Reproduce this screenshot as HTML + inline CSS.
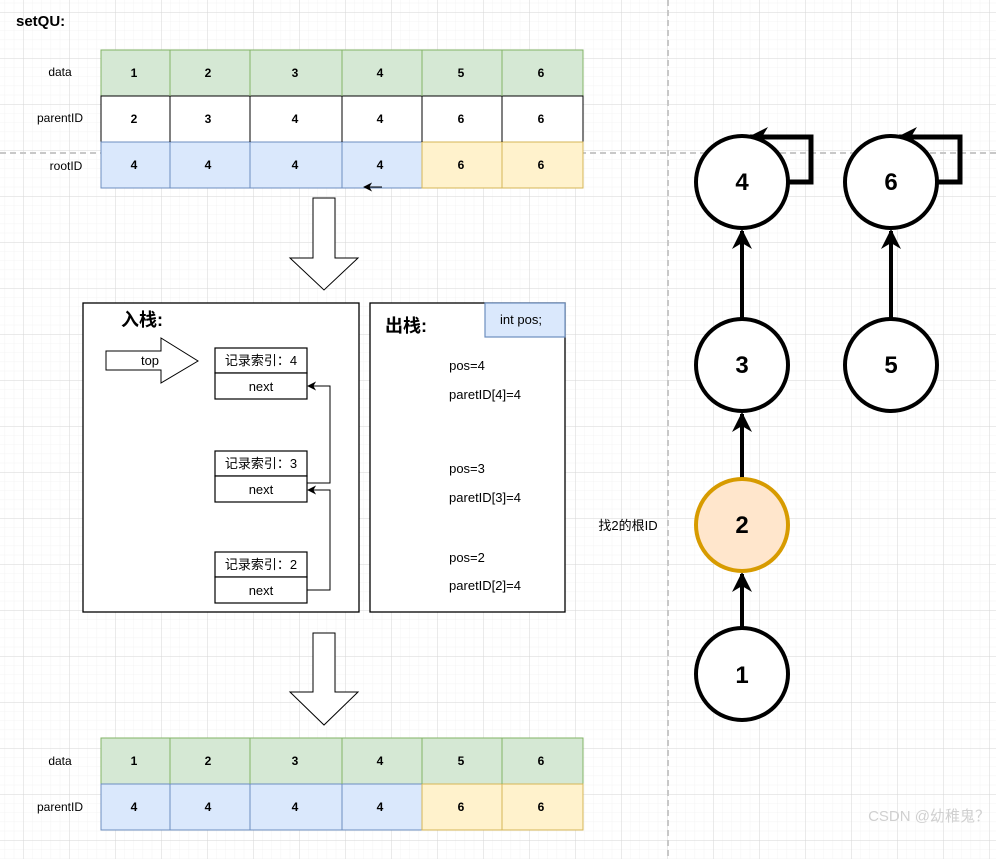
<!DOCTYPE html>
<html><head><meta charset="utf-8"><style>
html,body{margin:0;padding:0;background:#fff;}
svg{display:block;}
text{font-family:"Liberation Sans","Noto Sans CJK SC",sans-serif;}
</style></head><body>
<svg width="996" height="859" viewBox="0 0 996 859" xmlns="http://www.w3.org/2000/svg">
<defs>
<pattern id="minor" x="23" y="12" width="9.2" height="9.2" patternUnits="userSpaceOnUse">
<path d="M0 0H9.2M0 0V9.2" stroke="#f3f3f3" stroke-width="1" fill="none"/>
</pattern>
<pattern id="major" x="23" y="12" width="46" height="46" patternUnits="userSpaceOnUse">
<path d="M0 0H46M0 0V46" stroke="#d6d6d6" stroke-width="1" fill="none"/>
</pattern>
<marker id="ah" viewBox="0 0 10 10" refX="9" refY="5" markerWidth="9" markerHeight="9" markerUnits="userSpaceOnUse" orient="auto"><path d="M0 0L10 5L0 10L3 5Z" fill="#000"/></marker>
<marker id="ahb" viewBox="0 0 10 10" refX="9" refY="5" markerWidth="20" markerHeight="20" markerUnits="userSpaceOnUse" orient="auto"><path d="M0 0L10 5L0 10L3 5Z" fill="#000"/></marker>
</defs>
<rect width="996" height="859" fill="#fff"/>
<rect width="996" height="859" fill="url(#minor)"/>
<rect width="996" height="859" fill="url(#major)"/>
<line x1="668" y1="0" x2="668" y2="859" stroke="#c8c8c8" stroke-width="2" stroke-dasharray="6 4"/>
<line x1="0" y1="153" x2="996" y2="153" stroke="#c8c8c8" stroke-width="2" stroke-dasharray="6 4"/>

<text x="16" y="26" font-size="15" font-weight="bold">setQU:</text>

<!-- top table -->
<g font-size="12" text-anchor="middle">
<text x="60" y="76">data</text><text x="60" y="122">parentID</text><text x="66" y="170">rootID</text>
</g>
<g stroke-width="1">
<rect x="101" y="50" width="482" height="46" fill="#d5e8d4" stroke="#82b366"/>
<rect x="101" y="96" width="482" height="46" fill="#fff" stroke="#000"/>
<rect x="101" y="142" width="321" height="46" fill="#dae8fc" stroke="#6c8ebf"/>
<rect x="422" y="142" width="161" height="46" fill="#fff2cc" stroke="#d6b656"/>
<path d="M170 50V96M250 50V96M342 50V96M422 50V96M502 50V96" stroke="#82b366"/>
<path d="M170 96V142M250 96V142M342 96V142M422 96V142M502 96V142" stroke="#000"/>
<path d="M170 142V188M250 142V188M342 142V188" stroke="#6c8ebf"/>
<path d="M502 142V188" stroke="#d6b656"/>
</g>
<g font-size="12" font-weight="bold" text-anchor="middle">
<text x="134" y="77">1</text><text x="208" y="77">2</text><text x="295" y="77">3</text><text x="380" y="77">4</text><text x="461" y="77">5</text><text x="541" y="77">6</text>
<text x="134" y="123">2</text><text x="208" y="123">3</text><text x="295" y="123">4</text><text x="380" y="123">4</text><text x="461" y="123">6</text><text x="541" y="123">6</text>
<text x="134" y="169">4</text><text x="208" y="169">4</text><text x="295" y="169">4</text><text x="380" y="169">4</text><text x="461" y="169">6</text><text x="541" y="169">6</text>
</g>
<line x1="382" y1="187" x2="364" y2="187" stroke="#000" stroke-width="1" marker-end="url(#ah)"/>

<!-- big arrows -->
<path d="M313 198H335V258H358L324 290L290 258H313Z" fill="#fff" stroke="#000" stroke-width="1"/>
<path d="M313 633H335V692H358L324 725L290 692H313Z" fill="#fff" stroke="#000" stroke-width="1"/>

<!-- push box -->
<rect x="83" y="303" width="276" height="309" fill="#fff" stroke="#000" stroke-width="1.3"/>
<text x="121" y="326" font-size="18" font-weight="bold">入栈:</text>
<path d="M106 351H161V338L198 361L161 383V370H106Z" fill="#fff" stroke="#000" stroke-width="1"/>
<text x="150" y="365" font-size="13" text-anchor="middle">top</text>
<g fill="#fff" stroke="#000" stroke-width="1.2">
<rect x="215" y="348" width="92" height="25"/><rect x="215" y="373" width="92" height="26"/>
<rect x="215" y="451" width="92" height="25"/><rect x="215" y="476" width="92" height="26"/>
<rect x="215" y="552" width="92" height="25"/><rect x="215" y="577" width="92" height="26"/>
</g>
<g font-size="13" text-anchor="middle">
<text x="261" y="365">记录索引：4</text><text x="261" y="391">next</text>
<text x="261" y="468">记录索引：3</text><text x="261" y="494">next</text>
<text x="261" y="569">记录索引：2</text><text x="261" y="595">next</text>
</g>
<path d="M307 590H330V490H308" fill="none" stroke="#000" stroke-width="1" marker-end="url(#ah)"/>
<path d="M307 483H330V386H308" fill="none" stroke="#000" stroke-width="1" marker-end="url(#ah)"/>

<!-- pop box -->
<rect x="370" y="303" width="195" height="309" fill="#fff" stroke="#000" stroke-width="1.3"/>
<rect x="485" y="303" width="80" height="34" fill="#dae8fc" stroke="#6c8ebf" stroke-width="1.2"/>
<text x="521" y="324" font-size="13" text-anchor="middle">int pos;</text>
<text x="385" y="332" font-size="18" font-weight="bold">出栈:</text>
<g font-size="13" text-anchor="middle">
<text x="467" y="370">pos=4</text><text x="485" y="399">paretID[4]=4</text>
<text x="467" y="473">pos=3</text><text x="485" y="502">paretID[3]=4</text>
<text x="467" y="562">pos=2</text><text x="485" y="590">paretID[2]=4</text>
</g>

<!-- bottom table -->
<g font-size="12" text-anchor="middle">
<text x="60" y="765">data</text><text x="60" y="811">parentID</text>
</g>
<g stroke-width="1">
<rect x="101" y="738" width="482" height="46" fill="#d5e8d4" stroke="#82b366"/>
<rect x="101" y="784" width="321" height="46" fill="#dae8fc" stroke="#6c8ebf"/>
<rect x="422" y="784" width="161" height="46" fill="#fff2cc" stroke="#d6b656"/>
<path d="M170 738V784M250 738V784M342 738V784M422 738V784M502 738V784" stroke="#82b366"/>
<path d="M170 784V830M250 784V830M342 784V830" stroke="#6c8ebf"/>
<path d="M502 784V830" stroke="#d6b656"/>
</g>
<g font-size="12" font-weight="bold" text-anchor="middle">
<text x="134" y="765">1</text><text x="208" y="765">2</text><text x="295" y="765">3</text><text x="380" y="765">4</text><text x="461" y="765">5</text><text x="541" y="765">6</text>
<text x="134" y="811">4</text><text x="208" y="811">4</text><text x="295" y="811">4</text><text x="380" y="811">4</text><text x="461" y="811">6</text><text x="541" y="811">6</text>
</g>

<!-- tree -->
<g stroke="#000" stroke-width="4" fill="none">
<path d="M742 628V574" marker-end="url(#ahb)"/>
<path d="M742 478V414" marker-end="url(#ahb)"/>
<path d="M742 318V231" marker-end="url(#ahb)"/>
<path d="M891 318V231" marker-end="url(#ahb)"/>
<path d="M788 182H811V137H750" stroke-width="5" marker-end="url(#ahb)"/>
<path d="M937 182H960V137H899" stroke-width="5" marker-end="url(#ahb)"/>
</g>
<g stroke-width="4">
<circle cx="742" cy="182" r="46" fill="#fff" stroke="#000"/>
<circle cx="891" cy="182" r="46" fill="#fff" stroke="#000"/>
<circle cx="742" cy="365" r="46" fill="#fff" stroke="#000"/>
<circle cx="891" cy="365" r="46" fill="#fff" stroke="#000"/>
<circle cx="742" cy="525" r="46" fill="#ffe6cc" stroke="#d79b00"/>
<circle cx="742" cy="674" r="46" fill="#fff" stroke="#000"/>
</g>
<g font-size="24" font-weight="bold" text-anchor="middle">
<text x="742" y="190">4</text><text x="891" y="190">6</text>
<text x="742" y="373">3</text><text x="891" y="373">5</text>
<text x="742" y="533">2</text><text x="742" y="683">1</text>
</g>
<text x="628" y="530" font-size="13" text-anchor="middle">找2的根ID</text>
<text x="990" y="821" font-size="15" fill="#d0d0d0" text-anchor="end">CSDN @幼稚鬼？</text>
</svg>
</body></html>
